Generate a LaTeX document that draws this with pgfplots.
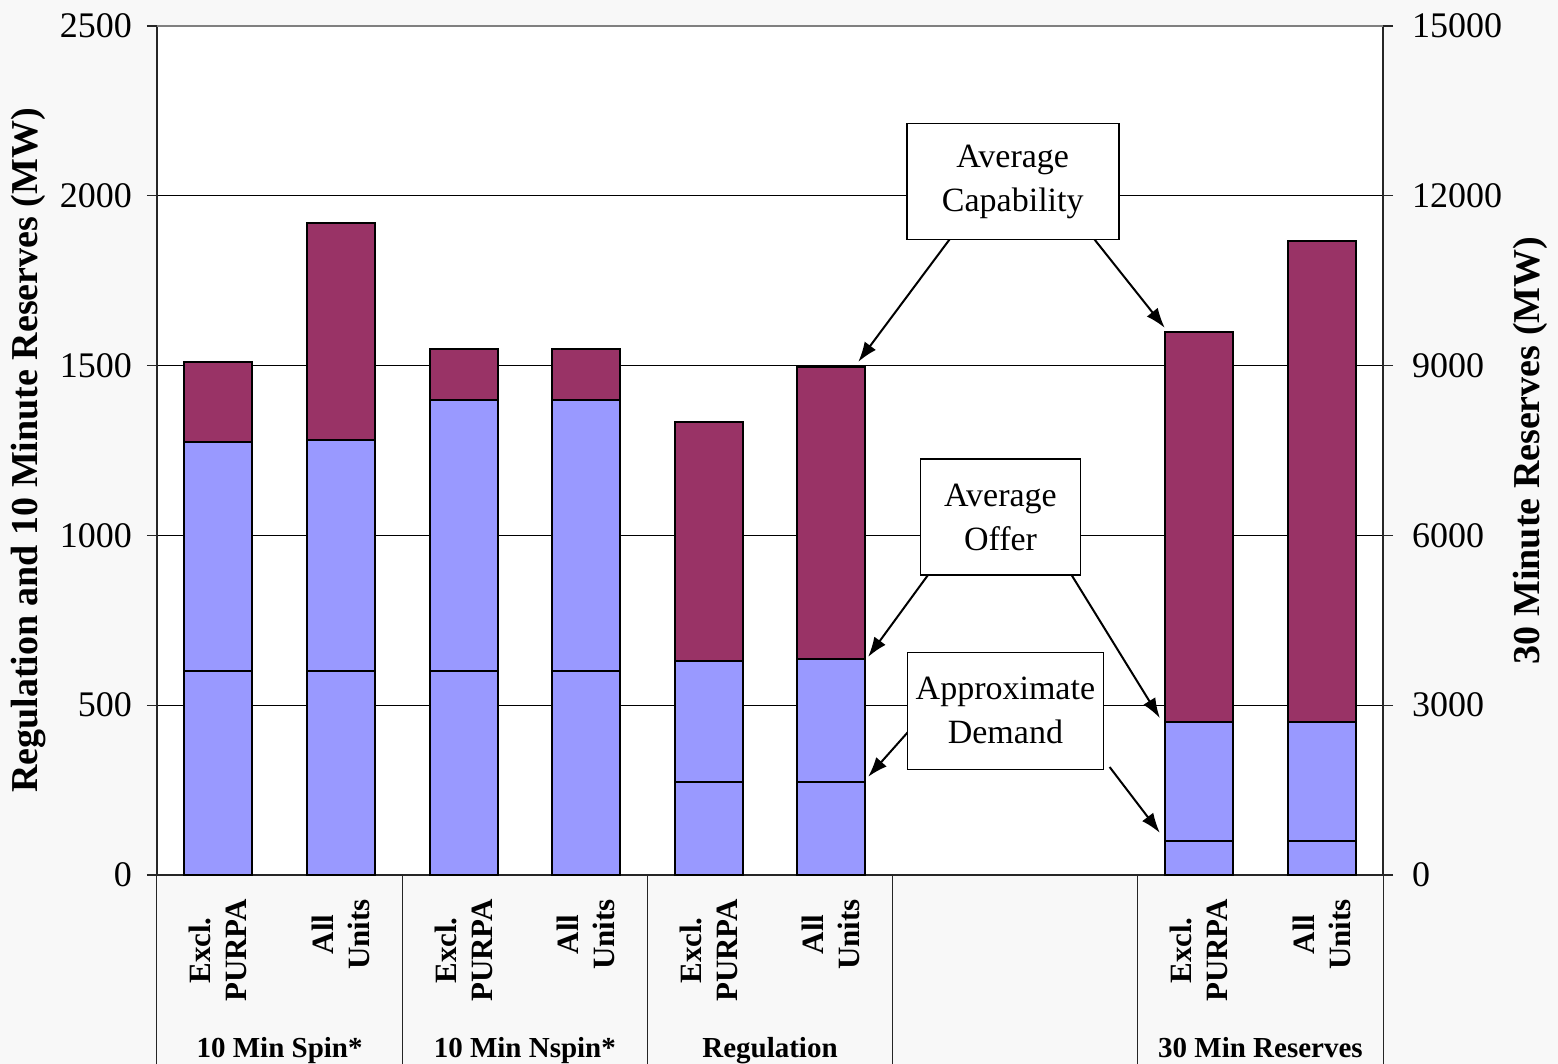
\documentclass[border=0pt]{standalone}
\usepackage{pgfplots}
\pgfplotsset{compat=1.18}
\usepackage{pgfplotstable}
\usepackage{fontspec}
\setmainfont{Liberation Serif}
\usetikzlibrary{arrows.meta}

\definecolor{offerblue}{HTML}{9999FF}
\definecolor{capmaroon}{HTML}{993366}
\definecolor{pagebg}{HTML}{F8F8F8}

% Regulation and 10 minute reserves (MW): demand, average offer, average capability
\pgfplotstableread{
x demand offer cap
0 600 1275 1510
1 600 1280 1920
2 600 1400 1550
3 600 1400 1550
4 275 630 1335
5 275 635 1495
}\tenmin

% 30 minute reserves (MW), right axis
\pgfplotstableread{
x demand offer cap
8 600 2700 9600
9 600 2700 11200
}\thirtymin

\tikzset{
  grouplabel/.style={anchor=base, font=\bfseries\fontsize{14.5}{17}\selectfont},
  callout/.style={draw=black, fill=white, line width=0.8pt, align=center,
    inner sep=0pt, font=\fontsize{17}{22}\selectfont},
  pointer/.style={line width=1pt, -{Latex[length=10pt,width=7pt]}},
  sep/.style={draw=black!85, line width=0.5pt},
}

\pgfplotsset{
  resbar/.style={draw=black, line width=1pt},
  common/.style={
    at={(0,0)}, anchor=south west,
    scale only axis, width=613pt, height=424.5pt,
    xmin=-0.5, xmax=9.5, ymin=0,
    ybar stacked, bar width=34pt,
    tick align=outside, major tick length=5pt,
    axis line style={-, draw=black!85, line width=0.6pt},
    ytick style={draw=black!85, line width=0.6pt},
    scaled y ticks=false,
    /pgf/number format/1000 sep={},
    /pgf/number format/assume math mode=true,
    yticklabel style={font=\fontsize{18}{18}\selectfont},
    clip=false,
  },
}

\begin{document}
\begin{tikzpicture}
\fill[pagebg] (-78.5pt,-94.5pt) rectangle (700.5pt,437.5pt);
\useasboundingbox (-78.5pt,-94.5pt) rectangle (700.5pt,437.5pt);

\begin{axis}[
  common,
  ymax=2500,
  axis background/.style={fill=white},
  axis x line*=bottom, axis y line*=left,
  ytick={0,500,1000,1500,2000,2500},
  yticklabel shift=4pt,
  ymajorgrids, grid style={black, line width=0.5pt},
  xtick={0,1,2,3,4,5,8,9},
  xticklabels={{Excl.\\PURPA},{All\\Units},{Excl.\\PURPA},{All\\Units},{Excl.\\PURPA},{All\\Units},{Excl.\\PURPA},{All\\Units}},
  xtick style={draw=none},
  xticklabel shift=3.5pt,
  xticklabel style={rotate=90, anchor=east, align=center,
    font=\bfseries\fontsize{15.5}{18}\selectfont},
  ylabel={Regulation and 10 Minute Reserves (MW)},
  ylabel style={font=\bfseries\fontsize{19}{19}\selectfont,
    at={(axis description cs:-0.1052,0.5)}, anchor=center},
]
\addplot[resbar, fill=offerblue] table[x=x, y=demand] {\tenmin};
\addplot[resbar, fill=offerblue] table[x=x, y expr=\thisrow{offer}-\thisrow{demand}] {\tenmin};
\addplot[resbar, fill=capmaroon] table[x=x, y expr=\thisrow{cap}-\thisrow{offer}] {\tenmin};
\end{axis}

\begin{axis}[
  common,
  ymax=15000,
  axis x line=none, axis y line*=right,
  ytick={0,3000,6000,9000,12000,15000},
  yticklabel shift=6pt,
  ylabel={30 Minute Reserves (MW)},
  ylabel style={font=\bfseries\fontsize{19}{19}\selectfont,
    at={(axis description cs:1.1199,0.5)}, anchor=center},
]
\addplot[resbar, fill=offerblue] table[x=x, y=demand] {\thirtymin};
\addplot[resbar, fill=offerblue] table[x=x, y expr=\thisrow{offer}-\thisrow{demand}] {\thirtymin};
\addplot[resbar, fill=capmaroon] table[x=x, y expr=\thisrow{cap}-\thisrow{offer}] {\thirtymin};

% top frame line
\draw[draw=black!50, line width=0.8pt] (axis cs:-0.5,15000) -- (axis cs:9.5,15000);

% group separators below the category axis
\draw[sep] (axis cs:-0.5,0) -- ([yshift=-94.5pt]axis cs:-0.5,0);
\draw[sep] (axis cs:1.5,0) -- ([yshift=-94.5pt]axis cs:1.5,0);
\draw[sep] (axis cs:3.5,0) -- ([yshift=-94.5pt]axis cs:3.5,0);
\draw[sep] (axis cs:5.5,0) -- ([yshift=-94.5pt]axis cs:5.5,0);
\draw[sep] (axis cs:7.5,0) -- ([yshift=-94.5pt]axis cs:7.5,0);
\draw[sep] (axis cs:9.5,0) -- ([yshift=-94.5pt]axis cs:9.5,0);

% group names
\node[grouplabel] at ([yshift=-91pt]axis cs:0.5,0) {10 Min Spin*};
\node[grouplabel] at ([yshift=-91pt]axis cs:2.5,0) {10 Min Nspin*};
\node[grouplabel] at ([yshift=-91pt]axis cs:4.5,0) {Regulation};
\node[grouplabel] at ([yshift=-91pt]axis cs:8.5,0) {30 Min Reserves};

% callout boxes and arrows (positions in right-axis units)
\node[callout, minimum width=106pt, minimum height=58pt] at (axis cs:6.48,12250) {Average\\Capability};
\node[callout, minimum width=80pt, minimum height=58pt] at (axis cs:6.38,6320) {Average\\Offer};
\node[callout, minimum width=98pt, minimum height=58.5pt] at (axis cs:6.42,2900) {Approximate\\Demand};
\draw[pointer] (axis cs:5.98,11274) -- (axis cs:5.22,9066);
\draw[pointer] (axis cs:7.13,11274) -- (axis cs:7.72,9666);
\draw[pointer] (axis cs:5.80,5334) -- (axis cs:5.30,3852);
\draw[pointer] (axis cs:6.95,5334) -- (axis cs:7.68,2772);
\draw[pointer] (axis cs:5.64,2562) -- (axis cs:5.30,1734);
\draw[pointer] (axis cs:7.27,1908) -- (axis cs:7.68,744);
\end{axis}
\end{tikzpicture}
\end{document}
